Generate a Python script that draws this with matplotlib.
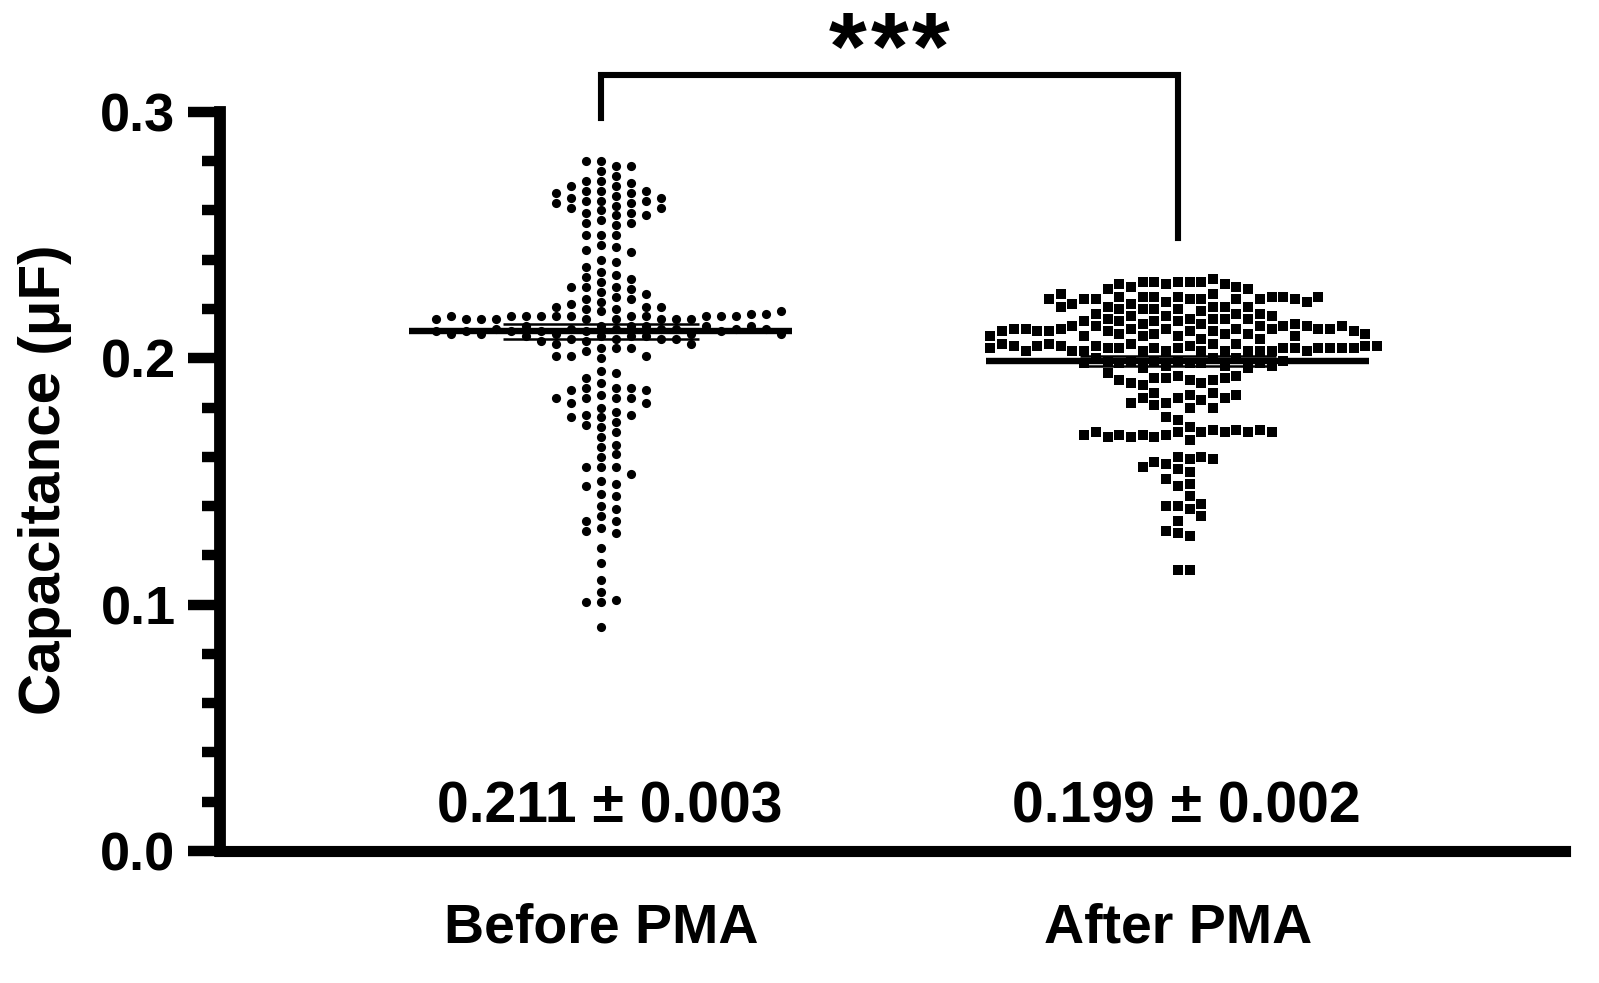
import matplotlib
matplotlib.use('Agg')
import matplotlib.pyplot as plt
import numpy as np

plt.rcParams['font.family'] = ['Liberation Sans', 'DejaVu Sans']
plt.rcParams['font.weight'] = 'bold'

groups = ['Before PMA', 'After PMA']
means = [0.211, 0.199]
sems = [0.003, 0.002]
mean_labels = ['0.211 \u00b1 0.003', '0.199 \u00b1 0.002']
stars = '***'

# capacitance values (uF), top to bottom
before = [
    0.280, 0.278, 0.280, 0.278, 0.276, 0.274, 0.272, 0.272,
    0.271, 0.270, 0.270, 0.268, 0.268, 0.268, 0.267, 0.267,
    0.266, 0.265, 0.265, 0.264, 0.264, 0.264, 0.263, 0.263,
    0.262, 0.261, 0.261, 0.260, 0.259, 0.259, 0.258, 0.258,
    0.256, 0.255, 0.255, 0.254, 0.250, 0.250, 0.250,
    0.246, 0.245, 0.244, 0.243, 0.240, 0.239, 0.237, 0.235,
    0.234, 0.233, 0.232, 0.231, 0.229, 0.229, 0.229, 0.228,
    0.227, 0.226, 0.225, 0.224, 0.224, 0.223,
    0.222, 0.220, 0.220, 0.221, 0.221, 0.221,
    0.219, 0.216, 0.217, 0.217, 0.216, 0.217, 0.217, 0.216,
    0.217, 0.216, 0.217, 0.216, 0.217, 0.217, 0.216, 0.217,
    0.216, 0.217, 0.216, 0.218, 0.217, 0.218, 0.216, 0.219,
    0.213, 0.212, 0.213, 0.211, 0.212, 0.213, 0.210, 0.212,
    0.211, 0.213, 0.212, 0.210, 0.211, 0.213, 0.212, 0.209,
    0.211, 0.210, 0.212, 0.213, 0.209, 0.211, 0.208, 0.210,
    0.212, 0.209, 0.208, 0.211, 0.207, 0.210, 0.208, 0.209,
    0.207, 0.206, 0.208, 0.206,
    0.204, 0.204, 0.204, 0.203, 0.201, 0.200, 0.201, 0.201,
    0.195, 0.194, 0.192, 0.190, 0.188, 0.188, 0.188, 0.187,
    0.187, 0.185, 0.184, 0.184, 0.184, 0.184, 0.182, 0.182,
    0.180, 0.178, 0.177, 0.177, 0.176, 0.176, 0.174, 0.173,
    0.172, 0.170, 0.168, 0.165, 0.164, 0.161, 0.160,
    0.156, 0.156, 0.156, 0.153, 0.150, 0.149, 0.148,
    0.145, 0.144, 0.140, 0.139, 0.136, 0.134, 0.134, 0.131,
    0.129, 0.130, 0.123, 0.117, 0.110, 0.105, 0.102, 0.101,
    0.101, 0.091,
]

after = [
    0.231, 0.231, 0.230, 0.231, 0.231, 0.232, 0.231, 0.230,
    0.229, 0.229, 0.230, 0.228, 0.228,
    0.225, 0.224, 0.223, 0.224, 0.220, 0.225, 0.221, 0.225,
    0.221, 0.226, 0.222, 0.225, 0.220, 0.224, 0.221, 0.224,
    0.224, 0.220, 0.225, 0.221, 0.224, 0.220, 0.225, 0.222,
    0.224, 0.221, 0.223, 0.224, 0.225, 0.226,
    0.216, 0.217, 0.219, 0.215, 0.216, 0.214, 0.215, 0.218,
    0.218, 0.217, 0.216, 0.214, 0.218, 0.216, 0.217, 0.215,
    0.216, 0.215,
    0.212, 0.212, 0.212, 0.211, 0.211, 0.213, 0.209, 0.213,
    0.210, 0.213, 0.210, 0.212, 0.213, 0.210, 0.214, 0.210,
    0.211, 0.208, 0.212, 0.209, 0.213, 0.209, 0.209, 0.211,
    0.208, 0.212, 0.211, 0.212, 0.212, 0.213, 0.212, 0.211,
    0.211, 0.210, 0.209,
    0.205, 0.204, 0.203, 0.204, 0.206, 0.203, 0.206, 0.203,
    0.206, 0.203, 0.204, 0.203, 0.204, 0.203, 0.205, 0.203,
    0.203, 0.204, 0.203, 0.205, 0.204, 0.203, 0.206, 0.204,
    0.205, 0.204, 0.203, 0.204, 0.205, 0.204, 0.206, 0.205,
    0.204, 0.205,
    0.199, 0.198, 0.200, 0.197, 0.199, 0.198, 0.196, 0.199,
    0.200, 0.197, 0.198, 0.199, 0.196, 0.198, 0.200, 0.197,
    0.199, 0.198,
    0.193, 0.191, 0.192, 0.190, 0.192, 0.191, 0.189, 0.192,
    0.190, 0.193, 0.191, 0.194,
    0.184, 0.185, 0.182, 0.186, 0.183, 0.180, 0.186, 0.184,
    0.181, 0.184, 0.182, 0.185, 0.180,
    0.175, 0.172, 0.176,
    0.170, 0.169, 0.170, 0.168, 0.171, 0.169, 0.170, 0.168,
    0.171, 0.169, 0.167, 0.170, 0.168, 0.171, 0.170, 0.170,
    0.169,
    0.160, 0.159, 0.157, 0.160, 0.158, 0.155, 0.159, 0.156,
    0.154, 0.151, 0.148, 0.149, 0.144,
    0.140, 0.139, 0.140, 0.141,
    0.134, 0.136, 0.129, 0.128, 0.130,
    0.114, 0.114,
]


def column_scatter(values, center, step, dy):
    # put each point in the nearest free column (0, +1, -1, +2, ...)
    cols = {}
    xs = []
    for v in values:
        i = 0
        while True:
            k = (i + 1) // 2 if i % 2 else -(i // 2)
            if all(abs(v - y) >= dy for y in cols.get(k, [])):
                break
            i += 1
        cols.setdefault(k, []).append(v)
        xs.append(center + k * step)
    return np.array(xs)


fig = plt.figure(figsize=(15.99, 9.83), dpi=100)
ax = fig.add_axes([0.1376, 0.1343, 0.8412, 0.7518])

x1 = column_scatter(before, 0, 0.026, 0.0034)
x2 = column_scatter(after, 1, 0.0203, 0.0042)
ax.plot(x1, before, 'o', color='black', ms=6.6, mew=0, zorder=2)
ax.plot(x2, after, 's', color='black', ms=6.6, mew=0, zorder=2)

for i, (m, s) in enumerate(zip(means, sems)):
    ax.hlines(m, i - 0.332, i + 0.332, color='black', lw=4.6, zorder=4)
    ax.hlines([m - s, m + s], i - 0.17, i + 0.17, color='black', lw=1.8, zorder=3)
    ax.vlines(i, m - s, m + s, color='black', lw=1.8, zorder=3)
    ax.text(i + 0.015, 0.0175, mean_labels[i], ha='center', va='center',
            fontsize=41, fontweight='bold')

# significance bracket
ax.plot([0, 0, 1, 1], [0.2976, 0.315, 0.315, 0.249], color='black',
        lw=4.4, clip_on=False, solid_joinstyle='miter')
for j, ch in enumerate(stars):
    ax.text(0.5 + (j - 1) * 0.072, 0.3135, ch, ha='center', va='baseline',
            fontsize=70, fontweight='bold')

ax.set_xlim(-0.66, 1.671)
ax.set_ylim(0, 0.3)
ax.set_xticks([0, 1])
ax.set_xticklabels(groups)
ax.set_yticks([0.0, 0.1, 0.2, 0.3])
ax.set_yticklabels(['0.0', '0.1', '0.2', '0.3'])
ax.set_yticks(np.arange(0, 0.301, 0.02), minor=True)
ax.tick_params(axis='y', which='major', length=23, width=7.5, labelsize=39, pad=9)
ax.tick_params(axis='y', which='minor', length=13, width=7.5)
ax.tick_params(axis='x', length=0, labelsize=40, pad=37)

for side in ['top', 'right']:
    ax.spines[side].set_visible(False)
ax.spines['left'].set_linewidth(8.5)
ax.spines['bottom'].set_linewidth(8.0)
ax.spines['left'].set_capstyle('projecting')

fig.text(45 / 1599, 1 - 480 / 983, 'Capacitance (\u03bcF)', rotation=90,
         ha='center', va='center', fontsize=42, fontweight='bold')

fig.savefig('out.png', dpi=100)
